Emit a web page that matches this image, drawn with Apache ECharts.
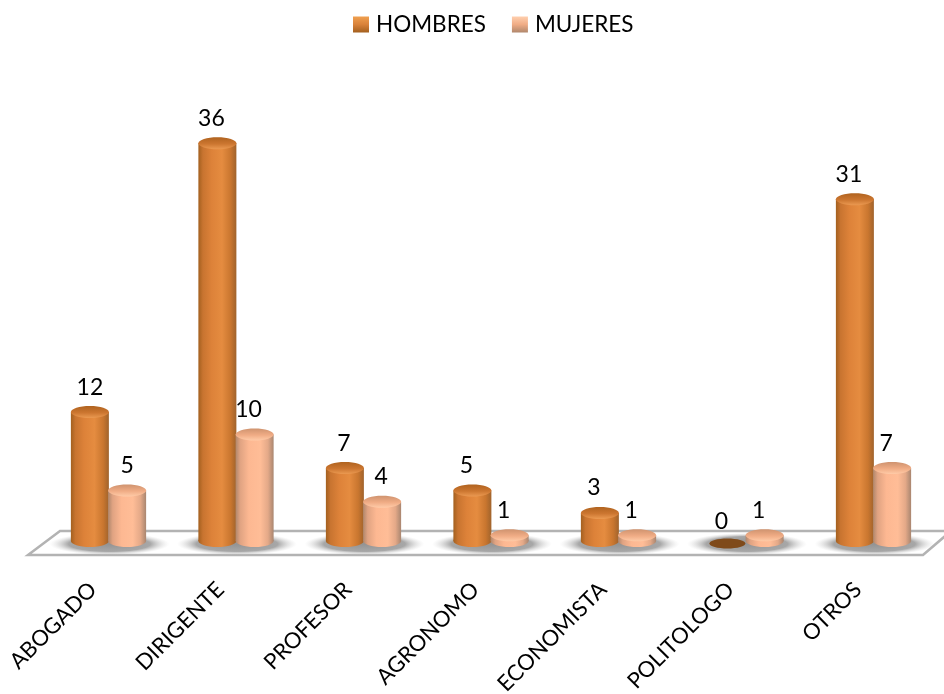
<!DOCTYPE html>
<html><head><meta charset="utf-8">
<style>html,body{margin:0;padding:0;background:#fff}#c{width:944px;height:694px}</style>
<script src="https://cdn.jsdelivr.net/npm/echarts@6/dist/echarts.min.js"></script>
</head><body><div id="c"></div>
<script>
const categories = ['ABOGADO','DIRIGENTE','PROFESOR','AGRONOMO','ECONOMISTA','POLITOLOGO','OTROS'];
const hombres = [12,36,7,5,3,0,31];
const mujeres = [5,10,4,1,1,1,7];
const labelShift = [0,-6,-1,-6,-6,-6,-6];
const FONT = 'Lato, "Open Sans", sans-serif';

function hGrad(stops){
  return {type:'linear',x:0,y:0,x2:1,y2:0,colorStops:stops.map(s=>({offset:s[0],color:s[1]}))};
}
function vGrad(stops){
  return {type:'linear',x:0,y:0,x2:0,y2:1,colorStops:stops.map(s=>({offset:s[0],color:s[1]}))};
}
const palettes = {
  h:{
    body:hGrad([[0,'#a3601f'],[0.12,'#c87430'],[0.35,'#dd8239'],[0.62,'#e58c40'],[0.85,'#c9762f'],[1,'#a0632c']]),
    cap:vGrad([[0,'#b0631f'],[0.55,'#cc7630'],[1,'#eb9a52']]),
    flat:'#7f4a1a',
    legend:vGrad([[0,'#f0a050'],[0.5,'#d9823a'],[1,'#a3601f']])
  },
  m:{
    body:hGrad([[0,'#b0876c'],[0.12,'#e0a382'],[0.35,'#fdb892'],[0.65,'#ffbd97'],[0.85,'#e4a988'],[1,'#a98670']]),
    cap:vGrad([[0,'#cf936f'],[0.55,'#f0ac85'],[1,'#ffcba8']]),
    flat:'#e2a17c',
    legend:vGrad([[0,'#ffcfae'],[0.5,'#f0ac85'],[1,'#b0876c']])
  }
};
const BAR_RATIO = 0.298, RY = 6, BASE_LIFT = 5.5;

function cylinder(side, key){
  return function(params, api){
    const i = api.value(0), v = api.value(1);
    const band = api.size([1,0])[0];
    const w = band*BAR_RATIO, rx = w/2;
    const c = api.coord([i,v]), zero = api.coord([i,0]);
    const cx = c[0] + side*rx*0.98;
    const baseY = zero[1]-BASE_LIFT;
    const p = palettes[key];
    const kids = [];
    if(key==='h'){
      kids.push({type:'circle',x:c[0]+1,y:zero[1]-2.5,scaleX:band*0.47/11,scaleY:1,shape:{cx:0,cy:0,r:11},
        style:{fill:{type:'radial',x:0.5,y:0.5,r:0.5,colorStops:[
          {offset:0,color:'rgba(135,135,135,0.9)'},{offset:0.68,color:'rgba(145,145,145,0.8)'},{offset:1,color:'rgba(210,210,210,0)'}]}}});
    }
    const sx = cx+labelShift[i];
    if(v===0){
      kids.push({type:'ellipse',shape:{cx:cx,cy:zero[1]-3,rx:rx-1,ry:RY-1},style:{fill:p.flat}});
    } else {
      const topY = c[1];
      kids.push({type:'rect',shape:{x:cx-rx,y:topY,width:w,height:baseY-topY},style:{fill:p.body}});
      kids.push({type:'ellipse',shape:{cx:cx,cy:baseY,rx:rx,ry:RY},style:{fill:p.body}});
      kids.push({type:'ellipse',shape:{cx:cx,cy:topY,rx:rx,ry:RY},style:{fill:p.cap}});
    }
    kids.push({type:'text',x:sx,y:c[1]-25,style:{text:String(v),fill:'#000',font:'23px '+FONT,align:'center',verticalAlign:'middle'}});
    return {type:'group',children:kids};
  };
}
const chart = echarts.init(document.getElementById('c'),null,{renderer:'canvas'});
chart.setOption({
  animation:false,
  backgroundColor:'#fff',
  grid:{left:44.75,right:6.75,top:98.5,bottom:147.5,containLabel:false,outerBoundsMode:'none'},
  legend:{
    data:['HOMBRES','MUJERES'],left:348,top:8,itemWidth:16,itemHeight:16,itemGap:26,
    icon:'rect',textStyle:{fontFamily:FONT,fontSize:22.5,color:'#000',padding:[0,0,0,2]}
  },
  xAxis:{type:'category',data:categories,
    axisLine:{show:false},axisTick:{show:false},
    axisLabel:{rotate:45,margin:24,interval:0,fontFamily:FONT,fontSize:22,color:'#000',padding:[0,22,0,0]}},
  yAxis:{type:'value',min:0,max:40,show:false,splitLine:{show:false}},
  graphic:[{type:'polygon',z:0,shape:{points:[[28,555],[60,531],[951,531],[923,555]]},
    style:{fill:'#fff',stroke:'#b3b3b3',lineWidth:2.5}}],
  series:[
    {name:'HOMBRES',type:'custom',z:3,clip:false,itemStyle:{color:palettes.h.legend},
     renderItem:cylinder(-1,'h'),encode:{x:0,y:1},data:hombres.map((v,i)=>[i,v])},
    {name:'MUJERES',type:'custom',z:4,clip:false,itemStyle:{color:palettes.m.legend},
     renderItem:cylinder(1,'m'),encode:{x:0,y:1},data:mujeres.map((v,i)=>[i,v])}
  ]
});
</script></body></html>
